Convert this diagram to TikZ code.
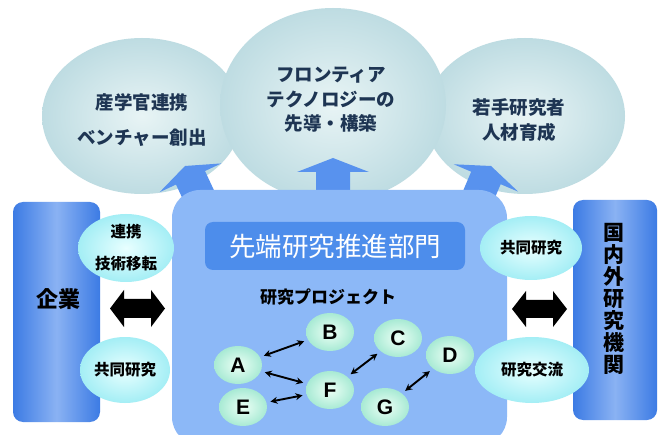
\documentclass[tikz,border=0pt]{standalone}
\usepackage{fontspec}
\setmainfont{Noto Sans CJK JP}
\newfontfamily\latinf{Liberation Sans}
\usetikzlibrary{shapes.geometric,arrows.meta}
\definecolor{circin}{HTML}{E8F4F5}
\definecolor{circout}{HTML}{BEDCE2}
\definecolor{navytext}{HTML}{1E3553}
\definecolor{mainblue}{HTML}{8CB8F7}
\definecolor{titleblue}{HTML}{4D8DEB}
\definecolor{sideedge}{HTML}{3C7BE4}
\definecolor{sidemid}{HTML}{8AB2F3}
\definecolor{arrowblue}{HTML}{5892EE}
\definecolor{cyanin}{HTML}{E8FFFF}
\definecolor{cyanout}{HTML}{A4EEF5}
\definecolor{mintin}{HTML}{ECFFF5}
\definecolor{mintout}{HTML}{A8EAD4}
\begin{document}
\begin{tikzpicture}[x=1pt,y=-1pt,
  bigcirc/.style={ellipse, inner sep=0pt, shading=radial, inner color=circin, outer color=circout},
  circtext/.style={text=navytext, font=\fontsize{18.5}{24.5}\selectfont\bfseries, align=center, inner sep=0pt},
  sideell/.style={ellipse, inner sep=0pt, shading=radial, inner color=cyanin, outer color=cyanout, font=\fontsize{15.5}{32}\selectfont\bfseries, align=center},
  proj/.style={ellipse, minimum width=48pt, minimum height=38pt, inner sep=0pt, shading=radial, inner color=mintin, outer color=mintout, font=\latinf\bfseries\fontsize{21}{21}\selectfont},
  link/.style={{Stealth[length=7pt,width=7pt]}-{Stealth[length=7pt,width=7pt]}, line width=1.9pt, shorten >=4pt, shorten <=4pt},
  uparr/.style={fill=arrowblue},
  blockarr/.style={fill=black},
  sidebox/.style={rounded corners=10pt, left color=sideedge, right color=sideedge, middle color=sidemid, inner sep=0pt}
]
\useasboundingbox (0,0) rectangle (658,435);
\fill[white] (0,0) rectangle (658,435);

% top ellipses
\node[bigcirc, minimum width=200pt, minimum height=156pt] (lc) at (142,116) {};
\node[bigcirc, minimum width=200pt, minimum height=156pt] (rc) at (525,116) {};
\node[bigcirc, minimum width=226pt, minimum height=194pt] (mc) at (333,105) {};
\node[circtext] (lct1) at (142,102) {産学官連携};
\node[circtext] (lct2) at (142,138) {ベンチャー創出};
\node[circtext] (mct) at (331,100) {フロンティア\\テクノロジーの\\先導・構築};
\node[circtext] (rct) at (519,120) {若手研究者\\人材育成};

% upward arrows
\fill[uparr, shift={(333,158)}] (0,0) -- (36,14) -- (17,14) -- (17,45) -- (-17,45) -- (-17,14) -- (-36,14) -- cycle;
\fill[uparr, shift={(185,166)}, rotate=25] (0,0) -- (34,13) -- (16,13) -- (16,45) -- (-16,45) -- (-16,13) -- (-34,13) -- cycle;
\fill[uparr, shift={(491,166)}, rotate=-23] (0,0) -- (35,13) -- (16,13) -- (16,45) -- (-16,45) -- (-16,13) -- (-35,13) -- cycle;

% main box
\fill[mainblue, rounded corners=28pt] (172,190) rectangle (507,445);
\node[fill=titleblue, rounded corners=8pt, minimum width=260pt, minimum height=48pt, inner sep=0pt,
  text=white, font=\fontsize{26.5}{26.5}\selectfont] (title) at (335,246) {先端研究推進部門};
\node[font=\fontsize{17}{17}\selectfont\bfseries, inner sep=0pt] (projlabel) at (328,297) {研究プロジェクト};

% side boxes
\node[sidebox, minimum width=87pt, minimum height=220pt] (kigyo) at (56.5,312) {};
\node[font=\fontsize{22}{22}\selectfont\bfseries, inner sep=0pt] (kigyot) at (58,299) {企業};
\node[sidebox, minimum width=84pt, minimum height=220pt] (inst) at (615,310) {};
\node[font=\fontsize{21}{22}\selectfont\bfseries, align=center, inner sep=0pt] (instt) at (614,299) {国\\内\\外\\研\\究\\機\\関};

% side ellipses
\node[sideell, minimum width=96pt, minimum height=68pt] (renkei) at (126,248) {連携\\技術移転};
\node[sideell, minimum width=90pt, minimum height=66pt] (kyodoL) at (125,370) {共同研究};
\node[sideell, minimum width=102pt, minimum height=64pt] (kyodoR) at (531,248) {共同研究};
\node[sideell, minimum width=114pt, minimum height=66pt] (koryu) at (532,370) {研究交流};

% black double block arrows
\fill[blockarr] (110,308.5) -- (124,290) -- (124,299) -- (151,299) -- (151,290) -- (165,308.5) -- (151,327) -- (151,318) -- (124,318) -- (124,327) -- cycle;
\fill[blockarr] (512,309) -- (526,291) -- (526,300) -- (553,300) -- (553,291) -- (567,309) -- (553,327) -- (553,318) -- (526,318) -- (526,327) -- cycle;

% project nodes
\node[proj] (A) at (238,365) {A};
\node[proj] (B) at (330,332) {B};
\node[proj] (C) at (398,338) {C};
\node[proj] (D) at (450,355) {D};
\node[proj] (E) at (243,407) {E};
\node[proj] (F) at (330,390) {F};
\node[proj] (G) at (385,407) {G};

\draw[link] (A) -- (B);
\draw[link] (A) -- (F);
\draw[link] (E) -- (F);
\draw[link] (F) -- (C);
\draw[link] (G) -- (D);
\end{tikzpicture}
\end{document}
